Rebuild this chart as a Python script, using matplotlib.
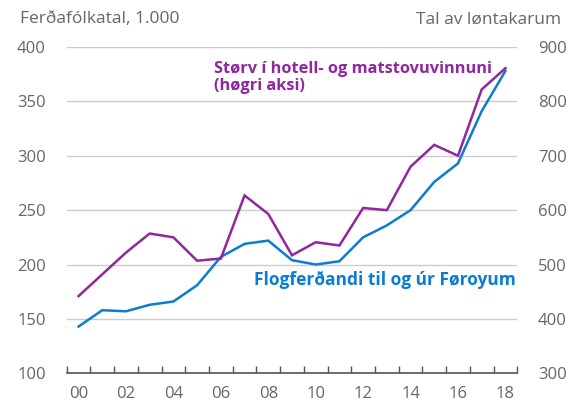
import matplotlib
matplotlib.use("Agg")
import matplotlib.pyplot as plt

years = ["00","01","02","03","04","05","06","07","08","09","10","11","12","13","14","15","16","17","18"]
passengers = [143, 158, 157, 163, 166, 181, 207, 219, 222, 204, 200, 203, 225, 236, 250, 276, 293, 341, 378]
employees = [442, 482, 522, 557, 550, 507, 511, 627, 593, 517, 541, 535, 604, 600, 680, 720, 700, 822, 861]
left_ticks = [100, 150, 200, 250, 300, 350, 400]
right_ticks = [300, 400, 500, 600, 700, 800, 900]

plt.rcParams['font.family'] = ['Open Sans', 'DejaVu Sans']
gray = '#666666'
blue = '#0A7DD2'
purple = '#9126A0'

fig = plt.figure(figsize=(5.7, 4.03), dpi=100)
ax = fig.add_axes([0.117, 0.0737, 0.7905, 0.8097])
ax2 = ax.twinx()

x = list(range(len(years)))
ax.plot(x, passengers, color=blue, lw=1.8, zorder=3, solid_joinstyle='miter')
ax2.plot(x, employees, color=purple, lw=1.8, zorder=3, solid_joinstyle='miter')

ax.set_xlim(-0.5, len(years) - 0.5)
ax.set_ylim(100, 400)
ax2.set_ylim(300, 900)
ax.set_yticks(left_ticks)
ax2.set_yticks(right_ticks)
ax.set_xticks(x[::2])
ax.set_xticklabels(years[::2])
ax.set_xticks([i - 0.5 for i in range(len(years) + 1)], minor=True)

for a in (ax, ax2):
    for s in a.spines.values():
        s.set_visible(False)
ax.spines['bottom'].set_visible(True)
ax.spines['bottom'].set_color('#555555')
ax.spines['bottom'].set_linewidth(1.2)

ax.grid(axis='y', color='#cccccc', lw=1)
ax.set_axisbelow(True)
ax.tick_params(axis='x', which='major', length=0, labelsize=12, labelcolor=gray, pad=9)
ax.tick_params(axis='x', which='minor', length=5, width=1, color='#555555', direction='in')
ax.tick_params(axis='y', length=0, labelsize=12, labelcolor=gray, pad=15)
ax2.tick_params(axis='y', length=0, labelsize=12, labelcolor=gray, pad=15)

fig.text(0.035, 0.952, "Ferðafólkatal, 1.000", fontsize=12.5, color=gray, ha='left', va='center')
fig.text(0.985, 0.952, "Tal av løntakarum", fontsize=12.5, color=gray, ha='right', va='center')

ax.text(5.72, 387, "Størv í hotell- og matstovuvinnuni\n(høgri aksi)", color=purple,
        fontsize=11.8, fontweight='bold', ha='left', va='top', linespacing=1.05)
ax.text(18.45, 186, "Flogferðandi til og úr Føroyum", color=blue,
        fontsize=12.5, fontweight='bold', ha='right', va='center')

fig.savefig("out.png", dpi=100)
